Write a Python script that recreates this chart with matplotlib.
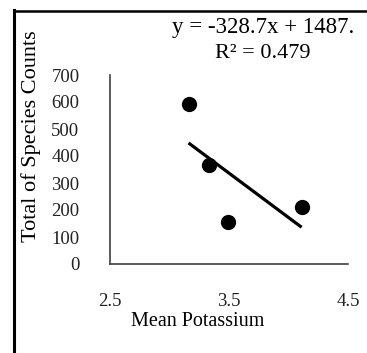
import matplotlib
matplotlib.use("Agg")
import matplotlib.pyplot as plt
import numpy as np

# Mean potassium vs. total species counts
potassium = [3.16, 3.33, 3.49, 4.11]
species_counts = [592, 365, 156, 210]

# Linear trend line coefficients and fit quality
slope = -328.7
intercept = 1487.0
r_squared = 0.479

x_ticks = [2.5, 3.5, 4.5]
y_ticks = [0, 100, 200, 300, 400, 500, 600, 700]

plt.rcParams["font.family"] = ["Liberation Serif", "DejaVu Serif"]

W, H = 367, 353
fig = plt.figure(figsize=(W / 100, H / 100), dpi=100)

# axes box in pixel coordinates
ax_l, ax_r, ax_t, ax_b = 110, 348, 75, 264
ax = fig.add_axes([ax_l / W, 1 - ax_b / H, (ax_r - ax_l) / W, (ax_b - ax_t) / H])

ax.scatter(potassium, species_counts, s=11 ** 2, color="black", zorder=3, linewidths=0)

trend_x = np.array([min(potassium), max(potassium)])
ax.plot(trend_x, slope * trend_x + intercept, color="black", lw=2.3, solid_capstyle="butt", zorder=2)

ax.set_xlim(2.5, 4.5)
ax.set_ylim(0, 700)
ax.set_xticks(x_ticks)
ax.set_xticklabels([f"{v:.1f}" for v in x_ticks])
ax.set_yticks(y_ticks)
ax.set_yticklabels([str(v) for v in y_ticks])

for side in ("top", "right"):
    ax.spines[side].set_visible(False)
for side in ("left", "bottom"):
    ax.spines[side].set_color("#404040")
    ax.spines[side].set_linewidth(1.2)

ax.tick_params(axis="both", length=0, labelsize=13.5, colors="#404040", labelcolor="#222222")
ax.tick_params(axis="y", pad=22)
ax.tick_params(axis="x", pad=21)

fig.text(198 / W, 1 - 321 / H, "Mean Potassium", ha="center", va="center", fontsize=14.5)
fig.text(31 / W, 1 - 136 / H, "Total of Species Counts", ha="center", va="center",
         rotation=90, fontsize=16)

fig.text(263 / W, 1 - 27 / H, f"y = {slope}x + {intercept:.0f}.", ha="center", va="center", fontsize=16.5)
fig.text(263 / W, 1 - 54 / H, f"R² = {r_squared}", ha="center", va="center", fontsize=16)

# outer frame (left and top edges)
fig.add_artist(plt.Line2D([13.5 / W, 13.5 / W], [0, 1 - 10 / H], transform=fig.transFigure,
                          color="black", lw=2.2, solid_capstyle="projecting"))
fig.add_artist(plt.Line2D([13.5 / W, 1], [1 - 10.5 / H, 1 - 10.5 / H], transform=fig.transFigure,
                          color="black", lw=1.8, solid_capstyle="projecting"))

fig.savefig("out.png", dpi=100, facecolor="white")
